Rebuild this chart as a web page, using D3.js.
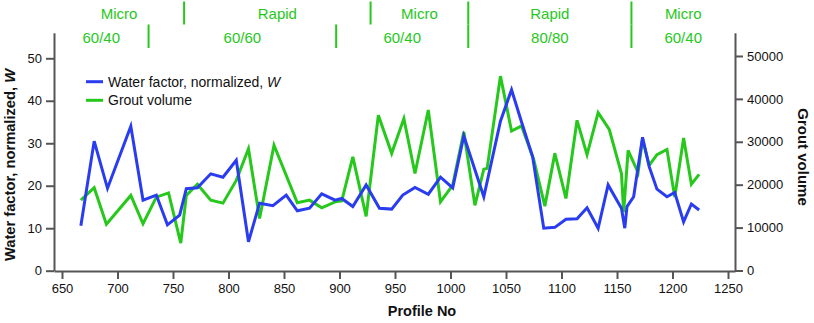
<!DOCTYPE html>
<html>
<head>
<meta charset="utf-8">
<script src="https://cdn.jsdelivr.net/npm/d3@7"></script>
<style>
  body { margin: 0; background: #fff; }
  svg { display: block; font-family: "Liberation Sans", Arial, Helvetica, sans-serif; }
</style>
</head>
<body>
<svg id="chart" width="814" height="323"></svg>
<script>
// Water factor (blue), left axis
const waterProfile = [667,679,691,712,723,735,745,756,762,772,784,795,807,818,828,840,852,862,873,884,896,902,912,924,936,947,957,968,980,991,1002,1012,1030,1045,1055,1064,1074,1084,1094,1104,1114,1123,1133,1142,1154,1157,1159,1165,1173,1179,1186,1195,1202,1210,1217,1224]
const waterFactor = [10.6,30.5,19.4,34.0,16.6,17.8,10.8,13.1,19.3,19.5,22.8,22.0,26.0,6.8,15.9,15.3,17.8,14.1,14.7,18.1,16.6,17.0,15.1,20.2,14.7,14.5,17.8,19.6,18.0,22.0,19.5,31.7,17.4,35.2,42.6,35.0,26.8,10.0,10.2,12.1,12.2,14.8,10.0,20.2,14.7,10.0,15.1,17.4,31.4,24.5,19.2,17.4,18.4,11.5,15.7,14.3]

// Grout volume (green), right axis
const groutProfile = [667,679,690,712,723,735,746,757,762,772,784,795,807,818,828,841,862,873,884,896,902,912,924,935,947,958,968,980,991,1002,1012,1022,1030,1033,1045,1055,1064,1075,1085,1094,1104,1114,1123,1133,1143,1154,1156,1160,1169,1173,1179,1186,1195,1202,1210,1217,1224]
const groutVolume = [16400,19300,10800,17500,10900,17100,18100,6400,17500,20100,16400,15700,21000,28400,12100,29200,15800,16400,14600,16000,16200,26500,12600,36200,27300,35400,22600,37400,16000,19900,32300,15200,23600,23800,45300,32500,33700,25800,15000,27300,16800,35000,27000,36800,32900,22600,13600,28000,22800,30600,24500,27000,28200,17100,30900,20100,22400]

// section bands on top (boundaries in profile numbers)
const methodLabels = ['Micro', 'Rapid', 'Micro', 'Rapid', 'Micro']
const methodBreaks = [760, 928, 1016, 1163]
const ratioLabels = ['60/40', '60/60', '60/40', '80/80', '60/40']
const ratioBreaks = [728, 897, 1016, 1163]

const xTicks = d3.range(650, 1251, 50)
const leftTicks = [0, 10, 20, 30, 40, 50]
const rightTicks = [0, 10000, 20000, 30000, 40000, 50000]

const blue = '#2a3cf0'
const green = '#26c81c'
const axisCol = '#555'

const svg = d3.select('#chart')

const x = d3.scaleLinear().domain([642.8, 1256.3]).range([54, 735])
const yL = d3.scaleLinear().domain([0, 56]).range([270.7, 32.8])
const yR = d3.scaleLinear().domain([0, 55400]).range([270.5, 32.8])

// axes
const styleAxis = g => {
  g.select('.domain').attr('stroke', axisCol).attr('stroke-width', 2)
  g.selectAll('.tick line').attr('stroke', axisCol).attr('stroke-width', 2)
  g.selectAll('.tick text').attr('fill', '#111').style('font-size', '13px')
  g.attr('font-family', null)
}

svg.append('g')
  .attr('transform', 'translate(0,271)')
  .call(d3.axisBottom(x).tickValues(xTicks).tickFormat(d3.format('d')).tickSize(8).tickSizeOuter(0).tickPadding(5))
  .call(styleAxis)

svg.append('g')
  .attr('transform', 'translate(54,0)')
  .call(d3.axisLeft(yL).tickValues(leftTicks).tickFormat(d3.format('d')).tickSize(8).tickSizeOuter(0).tickPadding(4))
  .call(styleAxis)

svg.append('g')
  .attr('transform', 'translate(735,0)')
  .call(d3.axisRight(yR).tickValues(rightTicks).tickFormat(d3.format('d')).tickSize(8).tickSizeOuter(0).tickPadding(4))
  .call(styleAxis)

// axis titles
svg.append('text')
  .attr('x', 422).attr('y', 316)
  .attr('text-anchor', 'middle')
  .style('font-size', '14.5px').style('font-weight', 'bold').attr('fill', '#111')
  .text('Profile No')

const lt = svg.append('text')
  .attr('transform', 'translate(15,165) rotate(-90)')
  .attr('text-anchor', 'middle')
  .style('font-size', '14.7px').style('font-weight', 'bold').attr('fill', '#111')
lt.append('tspan').text('Water factor, normalized, ')
lt.append('tspan').style('font-style', 'italic').text('W')

svg.append('text')
  .attr('transform', 'translate(798,157) rotate(90)')
  .attr('text-anchor', 'middle')
  .style('font-size', '15px').style('font-weight', 'bold').attr('fill', '#111')
  .text('Grout volume')

// top section labels
const drawBand = (breaks, labels, y0, y1, textY) => {
  const edges = [x.domain()[0], ...breaks, x.domain()[1]]
  svg.append('g').selectAll('line')
    .data(breaks)
    .join('line')
    .attr('x1', d => x(d)).attr('x2', d => x(d))
    .attr('y1', y0).attr('y2', y1)
    .attr('stroke', green).attr('stroke-width', 2)
  svg.append('g').selectAll('text')
    .data(labels)
    .join('text')
    .attr('x', (d, i) => (x(edges[i]) + x(edges[i + 1])) / 2)
    .attr('y', textY)
    .attr('text-anchor', 'middle')
    .attr('fill', green)
    .style('font-size', '15px')
    .text(d => d)
}
drawBand(methodBreaks, methodLabels, 1.5, 24.5, 18.5)
drawBand(ratioBreaks, ratioLabels, 24.5, 48, 42.5)

// lines
const groutLine = d3.line()
  .x((d, i) => x(groutProfile[i]))
  .y(d => yR(d))
const waterLine = d3.line()
  .x((d, i) => x(waterProfile[i]))
  .y(d => yL(d))

svg.append('path')
  .datum(groutVolume)
  .attr('d', groutLine)
  .attr('fill', 'none')
  .attr('stroke', green)
  .attr('stroke-width', 3)
  .attr('stroke-linejoin', 'miter')

svg.append('path')
  .datum(waterFactor)
  .attr('d', waterLine)
  .attr('fill', 'none')
  .attr('stroke', blue)
  .attr('stroke-width', 3)
  .attr('stroke-linejoin', 'miter')

// legend
const legend = svg.append('g').style('font-size', '14px')
const legendItems = [
  { color: blue, y: 81.7, parts: [['Water factor, normalized, ', 'normal'], ['W', 'italic']] },
  { color: green, y: 100.3, parts: [['Grout volume', 'normal']] }
]
legendItems.forEach(item => {
  legend.append('line')
    .attr('x1', 86).attr('x2', 103)
    .attr('y1', item.y).attr('y2', item.y)
    .attr('stroke', item.color).attr('stroke-width', 3)
  const t = legend.append('text')
    .attr('x', 108).attr('y', item.y + 5)
    .attr('fill', '#111')
  item.parts.forEach(p => t.append('tspan').style('font-style', p[1]).text(p[0]))
})
</script>
</body>
</html>
